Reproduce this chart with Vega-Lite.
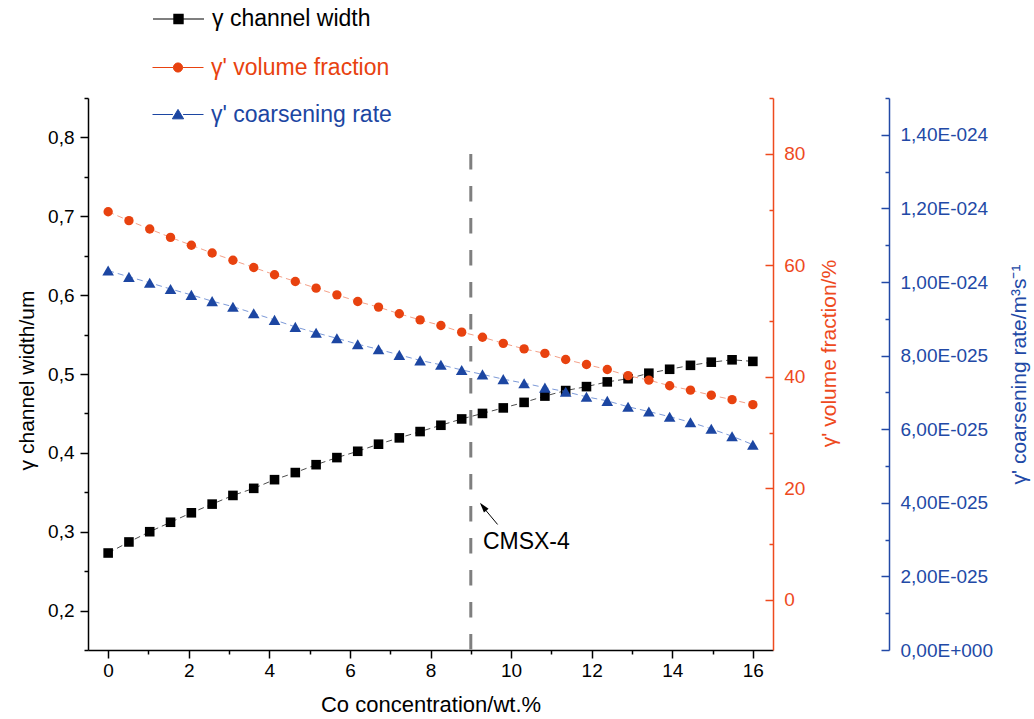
{
  "$schema": "https://vega.github.io/schema/vega-lite/v6.json",
  "width": 685,
  "height": 552,
  "autosize": "none",
  "padding": {"left": 88, "top": 98, "right": 261, "bottom": 69},
  "background": "white",
  "config": {
    "font": "Liberation Sans",
    "locale": {"number": {"decimal": ",", "thousands": ".", "grouping": [3], "currency": ["", ""]}},
    "view": {"stroke": null},
    "axis": {"grid": false, "labelFont": "Liberation Sans", "titleFont": "Liberation Sans", "labelFontSize": 19, "titleFontSize": 21, "titleFontWeight": "normal", "labelOverlap": false, "labelBound": false, "labelFlush": false, "domainWidth": 1.5, "tickWidth": 1.5, "domainColor": "#000", "tickColor": "#000", "labelColor": "#000", "titleColor": "#000"},
    "legend": {"labelFont": "Liberation Sans", "labelFontSize": 23, "padding": 0, "title": null, "labelLimit": 0}
  },
  "data": {"values": [
    {"co": 0, "w": 0.273, "vf": 69.6, "rate": 1.031e-24},
    {"co": 0.516, "w": 0.287, "vf": 68.0, "rate": 1.014e-24},
    {"co": 1.032, "w": 0.300, "vf": 66.5, "rate": 9.98e-25},
    {"co": 1.548, "w": 0.312, "vf": 65.0, "rate": 9.81e-25},
    {"co": 2.065, "w": 0.324, "vf": 63.6, "rate": 9.65e-25},
    {"co": 2.581, "w": 0.335, "vf": 62.2, "rate": 9.48e-25},
    {"co": 3.097, "w": 0.346, "vf": 60.9, "rate": 9.33e-25},
    {"co": 3.613, "w": 0.355, "vf": 59.6, "rate": 9.15e-25},
    {"co": 4.129, "w": 0.366, "vf": 58.3, "rate": 8.97e-25},
    {"co": 4.645, "w": 0.375, "vf": 57.1, "rate": 8.78e-25},
    {"co": 5.161, "w": 0.385, "vf": 55.9, "rate": 8.62e-25},
    {"co": 5.677, "w": 0.394, "vf": 54.7, "rate": 8.47e-25},
    {"co": 6.194, "w": 0.402, "vf": 53.5, "rate": 8.31e-25},
    {"co": 6.710, "w": 0.411, "vf": 52.5, "rate": 8.17e-25},
    {"co": 7.226, "w": 0.419, "vf": 51.3, "rate": 8.02e-25},
    {"co": 7.742, "w": 0.427, "vf": 50.2, "rate": 7.87e-25},
    {"co": 8.258, "w": 0.435, "vf": 49.2, "rate": 7.75e-25},
    {"co": 8.774, "w": 0.443, "vf": 48.0, "rate": 7.61e-25},
    {"co": 9.290, "w": 0.450, "vf": 47.1, "rate": 7.49e-25},
    {"co": 9.806, "w": 0.457, "vf": 46.0, "rate": 7.36e-25},
    {"co": 10.323, "w": 0.464, "vf": 45.0, "rate": 7.25e-25},
    {"co": 10.839, "w": 0.472, "vf": 44.2, "rate": 7.13e-25},
    {"co": 11.355, "w": 0.479, "vf": 43.1, "rate": 7.02e-25},
    {"co": 11.871, "w": 0.484, "vf": 42.2, "rate": 6.88e-25},
    {"co": 12.387, "w": 0.490, "vf": 41.3, "rate": 6.77e-25},
    {"co": 12.903, "w": 0.494, "vf": 40.2, "rate": 6.61e-25},
    {"co": 13.419, "w": 0.501, "vf": 39.4, "rate": 6.48e-25},
    {"co": 13.935, "w": 0.506, "vf": 38.4, "rate": 6.34e-25},
    {"co": 14.452, "w": 0.511, "vf": 37.6, "rate": 6.19e-25},
    {"co": 14.968, "w": 0.515, "vf": 36.7, "rate": 6.01e-25},
    {"co": 15.484, "w": 0.518, "vf": 35.9, "rate": 5.81e-25},
    {"co": 16, "w": 0.516, "vf": 35.0, "rate": 5.58e-25}
  ]},
  "layer": [
    {
      "encoding": {
        "x": {"field": "co", "type": "quantitative", "scale": {"domain": [-0.5, 16.5], "nice": false, "zero": false},
          "axis": {"title": "Co concentration/wt.%", "titleFontSize": 22, "values": [0,1,2,3,4,5,6,7,8,9,10,11,12,13,14,15,16], "labelExpr": "datum.value % 2 == 0 ? datum.label : ''", "tickSize": {"condition": {"test": "datum.value % 2 == 0", "value": 8}, "value": 4}, "labelPadding": 3, "titlePadding": 14}},
        "y": {"field": "w", "type": "quantitative", "scale": {"domain": [0.15, 0.85], "nice": false, "zero": false},
          "axis": {"orient": "left", "title": "γ channel width/um", "titleY": 282, "values": [0.15,0.2,0.25,0.3,0.35,0.4,0.45,0.5,0.55,0.6,0.65,0.7,0.75,0.8,0.85], "format": ".1f", "labelExpr": "abs(datum.value*10 - round(datum.value*10)) < 0.01 ? datum.label : ''", "tickSize": {"condition": {"test": "abs(datum.value*10 - round(datum.value*10)) < 0.01", "value": 8}, "value": 4}, "labelPadding": 6, "titlePadding": 10}}
      },
      "layer": [
        {"mark": {"type": "line", "color": "#4d4d4d", "strokeWidth": 1, "strokeDash": [6, 4]}},
        {"mark": {"type": "point", "shape": "square", "filled": true, "size": 92, "opacity": 1},
          "encoding": {
            "color": {"datum": "γ channel width", "scale": {"range": ["#000000"]},
              "legend": {"orient": "none", "legendX": 64, "legendY": -105.5, "symbolType": "M-1,0H-0.18M0.18,0H1M-0.18,-0.18H0.18V0.18H-0.18Z", "symbolSize": 2601, "symbolStrokeColor": "#000000", "symbolFillColor": "#000000", "symbolStrokeWidth": 1.2, "labelColor": "#000000", "labelOffset": 7}}}}
      ]
    },
    {
      "data": {"values": [{"note": "CMSX-4"}]},
      "layer": [
        {"mark": {"type": "rule", "color": "#7f7f7f", "strokeWidth": 3, "strokeDash": [15.5, 16.5]},
          "encoding": {"x": {"datum": 9, "type": "quantitative"}, "y": {"datum": 0.779, "type": "quantitative", "scale": {"domain": [0.15, 0.85], "nice": false, "zero": false}, "axis": null}, "y2": {"datum": 0.15}}},
        {"mark": {"type": "rule", "color": "#000", "strokeWidth": 1},
          "encoding": {"x": {"datum": 9.665, "type": "quantitative"}, "y": {"datum": 0.3092, "type": "quantitative", "scale": {"domain": [0.15, 0.85], "nice": false, "zero": false}, "axis": null}, "x2": {"datum": 9.26}, "y2": {"datum": 0.334}}},
        {"mark": {"type": "point", "shape": "M0,0L0.3,1L-0.3,1Z", "filled": true, "color": "#000", "opacity": 1, "size": 400, "angle": 320.8},
          "encoding": {"x": {"datum": 9.227, "type": "quantitative"}, "y": {"datum": 0.3367, "type": "quantitative", "scale": {"domain": [0.15, 0.85], "nice": false, "zero": false}, "axis": null}}},
        {"mark": {"type": "text", "align": "left", "baseline": "middle", "fontSize": 23, "color": "#000", "font": "Liberation Sans"},
          "encoding": {"text": {"field": "note"}, "x": {"datum": 9.3, "type": "quantitative"}, "y": {"datum": 0.2868, "type": "quantitative", "scale": {"domain": [0.15, 0.85], "nice": false, "zero": false}, "axis": null}}}
      ]
    },
    {
      "encoding": {
        "x": {"field": "co", "type": "quantitative"},
        "y": {"field": "vf", "type": "quantitative", "scale": {"domain": [-9, 90], "nice": false, "zero": false},
          "axis": {"orient": "right", "title": "γ' volume fraction/%", "titleAngle": 270, "titleBaseline": "top", "values": [0,10,20,30,40,50,60,70,80,90], "labelExpr": "datum.value % 20 == 0 ? datum.label : ''", "tickSize": {"condition": {"test": "datum.value % 20 == 0", "value": -8}, "value": -4}, "labelPadding": 18.7, "domainColor": "#ee4a1e", "tickColor": "#ee4a1e", "labelColor": "#ee4a1e", "titleColor": "#ee4a1e", "titlePadding": 14, "titleY": 255}}
      },
      "layer": [
        {"mark": {"type": "line", "color": "#f4a189", "strokeWidth": 1, "strokeDash": [6, 4]}},
        {"mark": {"type": "point", "shape": "circle", "filled": true, "size": 88, "opacity": 1},
          "encoding": {
            "color": {"datum": "γ' volume fraction", "scale": {"range": ["#e8420f"]},
              "legend": {"orient": "none", "legendX": 64, "legendY": -56.5, "symbolType": "M-1,0H-0.18M0.18,0H1M0.18,0A0.18,0.18,0,1,1,-0.18,0A0.18,0.18,0,1,1,0.18,0Z", "symbolSize": 2601, "symbolStrokeColor": "#e8420f", "symbolFillColor": "#e8420f", "symbolStrokeWidth": 1, "labelColor": "#e8420f", "labelOffset": 7}}}}
      ]
    },
    {
      "encoding": {
        "x": {"field": "co", "type": "quantitative"},
        "y": {"field": "rate", "type": "quantitative", "scale": {"domain": [0, 1.5e-24], "nice": false, "zero": false},
          "axis": {"orient": "right", "offset": 116, "title": "γ' coarsening rate/m³s⁻¹", "titleAngle": 270, "titleBaseline": "top", "values": [0,1e-25,2e-25,3e-25,4e-25,5e-25,6e-25,7e-25,8e-25,9e-25,1e-24,1.1e-24,1.2e-24,1.3e-24,1.4e-24,1.5e-24], "format": ".2e", "labelExpr": "round(datum.value*1e25) % 2 == 0 ? (datum.value == 0 ? '0,00E+000' : replace(upper(datum.label), 'E-', 'E-0')) : ''", "tickSize": {"condition": {"test": "round(datum.value*1e25) % 2 == 0", "value": -8}, "value": -4}, "labelPadding": 19, "domainColor": "#2249a6", "tickColor": "#2249a6", "labelColor": "#2249a6", "titleColor": "#2249a6", "titlePadding": 16}}
      },
      "layer": [
        {"mark": {"type": "line", "color": "#7d9ad8", "strokeWidth": 1, "strokeDash": [6, 4]}},
        {"mark": {"type": "point", "shape": "triangle-up", "filled": true, "size": 135, "opacity": 1},
          "encoding": {
            "color": {"datum": "γ' coarsening rate", "scale": {"range": ["#1c46a2"]},
              "legend": {"orient": "none", "legendX": 64, "legendY": -9.5, "symbolType": "M-1,0H-0.2M0.2,0H1M0,-0.2L0.22,0.17H-0.22Z", "symbolSize": 2601, "symbolStrokeColor": "#1c46a2", "symbolFillColor": "#1c46a2", "symbolStrokeWidth": 1, "labelColor": "#1c46a2", "labelOffset": 7}}}}
      ]
    }
  ],
  "resolve": {"scale": {"y": "independent", "color": "independent"}, "legend": {"color": "independent"}}
}
